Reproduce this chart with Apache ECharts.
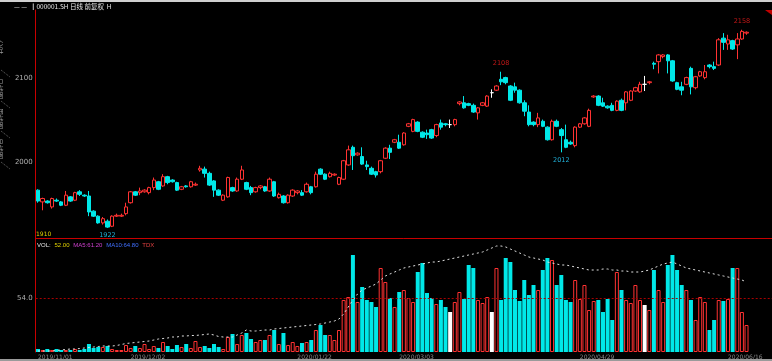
<!DOCTYPE html>
<html><head><meta charset="utf-8">
<script src="https://cdn.jsdelivr.net/npm/echarts@6/dist/echarts.min.js"></script>
<style>html,body{margin:0;padding:0;background:#000;overflow:hidden}#c{width:772px;height:361px}</style>
</head><body><div id="c"></div>
<script>
// [open, close, low, high]
const ohlc = [
[1967,1954,1952,1968],[1953,1957,1943,1958],[1954,1952,1951,1955],[1947,1957,1945,1958],[1955,1954,1953,1957],
[1953,1949,1948,1954],[1949,1961,1948,1966],[1959,1954,1953,1960],[1955,1964,1954,1965],[1965,1962,1960,1967],
[1961,1960,1959,1962],[1960,1941,1936,1966],[1942,1936,1935,1943],[1936,1928,1927,1937],[1928,1933,1926,1935],
[1930,1923,1922,1932],[1924,1936,1923,1937],[1936,1937,1935,1939],[1936,1937,1935,1939],[1939,1947,1937,1952],
[1952,1965,1951,1966],[1965,1961,1960,1966],[1964,1966,1961,1970],[1965,1967,1964,1968],[1964,1970,1962,1971],
[1970,1979,1967,1982],[1977,1968,1967,1978],[1972,1983,1971,1986],[1983,1976,1974,1984],[1979,1977,1976,1980],
[1976,1967,1966,1977],[1968,1971,1967,1972],[1972,1971,1970,1973],[1971,1977,1970,1978],[1973,1974,1972,1976],
[1991,1993,1989,1996],[1992,1987,1982,1995],[1987,1973,1972,1989],[1978,1967,1959,1979],[1967,1961,1960,1968],
[1955,1961,1954,1962],[1959,1982,1958,1983],[1970,1966,1965,1971],[1966,1980,1965,1982],[1980,1991,1979,1996],
[1976,1968,1967,1977],[1970,1964,1961,1972],[1965,1970,1964,1971],[1970,1972,1968,1973],[1971,1966,1965,1972],
[1966,1980,1965,1982],[1977,1960,1959,1978],[1958,1962,1957,1964],[1960,1952,1951,1961],[1952,1961,1951,1962],
[1960,1967,1959,1968],[1964,1966,1962,1967],[1964,1961,1960,1967],[1965,1974,1964,1976],[1971,1964,1962,1972],
[1971,1986,1970,1989],[1992,1986,1985,1993],[1986,1980,1979,1987],[1983,1987,1982,1989],[1985,1986,1984,1987],
[1974,1982,1973,1983],[1980,2002,1979,2003],[1997,2015,1996,2020],[2018,2008,1991,2020],[2009,2011,2008,2012],
[2007,1998,1997,2018],[1997,1995,1991,2002],[1993,1986,1985,1995],[1989,1985,1982,1990],[1989,2002,1987,2003],
[2005,2017,2004,2018],[2017,2012,2004,2021],[2024,2027,2023,2028],[2024,2017,2016,2033],[2021,2035,2020,2036],
[2043,2046,2042,2047],[2037,2051,2036,2052],[2048,2037,2036,2049],[2036,2030,2029,2037],[2035,2033,2028,2039],
[2039,2029,2028,2040],[2032,2045,2030,2046],[2047,2042,2039,2051],[2046,2045,2043,2047],[2045,2045,2041,2051],
[2045,2051,2043,2052],[2070,2072,2068,2073],[2071,2065,2064,2079],[2070,2068,2067,2071],[2068,2060,2059,2070],
[2059,2065,2051,2066],[2068,2071,2067,2072],[2067,2079,2066,2080],[2083,2083,2077,2087],[2086,2091,2085,2092],
[2099,2096,2092,2108],[2101,2095,2093,2102],[2091,2074,2073,2092],[2090,2086,2083,2095],[2086,2071,2070,2087],
[2071,2061,2055,2074],[2060,2045,2043,2068],[2048,2045,2043,2049],[2045,2053,2042,2059],[2049,2043,2042,2051],
[2042,2027,2026,2043],[2027,2049,2026,2051],[2049,2043,2042,2051],[2039,2032,2012,2041],[2027,2018,2017,2045],
[2024,2022,2021,2026],[2020,2042,2018,2043],[2042,2046,2041,2047],[2046,2053,2045,2054],[2043,2062,2042,2064],
[2078,2079,2077,2080],[2079,2068,2067,2080],[2071,2067,2066,2077],[2067,2065,2064,2068],[2068,2062,2061,2071],
[2062,2073,2061,2074],[2074,2062,2061,2076],[2071,2084,2062,2085],[2074,2085,2073,2086],[2085,2089,2084,2090],
[2084,2093,2083,2096],[2093,2093,2085,2103],[2095,2096,2093,2097],[2118,2117,2111,2120],[2120,2128,2106,2129],
[2126,2128,2124,2129],[2128,2121,2106,2129],[2121,2097,2096,2122],[2095,2087,2086,2096],[2090,2086,2080,2096],
[2093,2101,2092,2102],[2112,2090,2081,2114],[2089,2102,2087,2103],[2103,2108,2102,2109],[2101,2108,2099,2116],
[2116,2114,2112,2117],[2114,2112,2110,2120],[2116,2146,2115,2148],[2148,2143,2134,2154],[2141,2146,2134,2152],
[2145,2135,2134,2146],[2140,2147,2123,2154],[2147,2156,2146,2158],[2154,2155,2152,2156]
];
const volumes = [
3,2,3,2,3,2,2,2,3,2, 3,8,4,5,5,6,3,2,2,7, 4,6,4,8,3,6,4,10,6,3,
7,5,8,4,11,5,6,4,8,5, 3,15,18,8,17,19,13,10,12,12, 17,22,8,19,7,10,6,9,10,12,
22,27,17,17,12,22,52,55,97,50, 65,52,50,45,84,70,54,45,60,62, 54,50,80,89,59,54,48,52,45,40,
50,60,53,87,84,52,49,55,40,84, 52,94,90,62,51,72,57,67,62,82, 94,92,67,77,52,50,72,53,67,42,
51,52,40,53,32,80,62,52,49,67, 52,47,42,82,62,50,87,97,82,67, 62,52,32,55,50,22,32,52,51,53,
84,84,40,27
];
const volLine = [
1,1,1,1,1.5,2,2.5,3,3,3.5, 4,4.5,5,5.5,6,6,6,6.5,7.5,8.5, 9,9.5,10,10.5,11,12,13,13.5,14,15,
15,16,16,16.5,16.5,17,17.5,18,17,15.5, 15,15,15,17,19,22,21,21,21.5,22, 22,23,23.5,24,24.5,25,25.5,26,26.5,27,
27.5,28,29,30,31,33,38,45,52,58, 62,64,66,68,72,76,78,80,82,84, 85,86,87,88,89,90,90,91,92,93,
94,95,96,97,98,99,100,102,104,106, 106,105,103,101,99,97,95,94,93,92, 90,89,88,87,87,86,85,84,83,82,
82,82,83,83,82,82,81,81,80,80, 80,81,82,84,86,88,89,90,88,86, 84,83,82,81,80,79,78,77,76,75,
74,73,72,70
];
const SLOTS = 159;
const categories = Array.from({length: SLOTS}, (_, i) => String(i));
const tickIndex = [0, 20, 56, 78, 117, 149];
const tickText = ['2019/11/01', '2019/12/02', '2020/01/22', '2020/03/03', '2020/04/29', '2020/06/16'];
const priceTicks = [2000, 2100];
const volTick = 54;

const RED = '#ff3232', CYAN = '#00e8e8', AXIS = '#c80000';

const candleData = ohlc.map(d => d[0] === d[1]
  ? {value: d, itemStyle: {color: '#fff', color0: '#fff', borderColor: '#fff', borderColor0: '#fff'}}
  : d);
const volData = volumes.map((v, i) => {
  const d = ohlc[i];
  if (d[1] > d[0]) return {value: v, itemStyle: {color: '#000', borderColor: RED, borderWidth: 1}};
  if (d[1] < d[0]) return {value: v, itemStyle: {color: CYAN}};
  return {value: v, itemStyle: {color: '#fff'}};
});

function argExt(from, to, k, isMax) {
  let b = from;
  for (let i = from; i <= to; i++) {
    if (isMax ? ohlc[i][k] > ohlc[b][k] : ohlc[i][k] < ohlc[b][k]) b = i;
  }
  return b;
}
const gMax = argExt(0, ohlc.length - 1, 3, true);
const gMin = argExt(0, ohlc.length - 1, 2, false);
const lMax = argExt(85, 115, 3, true);
const lMin = argExt(105, 125, 2, false);
const hiLbl = {position: 'top', distance: 5, color: '#c81818', fontSize: 6.5, fontFamily: 'DejaVu Sans'};
const loLbl = {position: 'bottom', distance: 4, color: '#20b0d8', fontSize: 6.5, fontFamily: 'DejaVu Sans'};

const chart = echarts.init(document.getElementById('c'), null, {renderer: 'canvas'});
const L = 35.7, W = SLOTS * 4.634;
chart.setOption({
  backgroundColor: '#000',
  animation: false,
  grid: [
    {left: L, top: 10, width: W, height: 228},
    {left: L, top: 238, width: W, height: 114}
  ],
  xAxis: [
    {type: 'category', gridIndex: 0, data: categories, boundaryGap: true,
     axisLine: {show: true, lineStyle: {color: AXIS, width: 1}}, axisTick: {show: false}, axisLabel: {show: false}, splitLine: {show: false}},
    {type: 'category', gridIndex: 1, data: categories, boundaryGap: true,
     axisLine: {show: false}, axisTick: {show: false}, splitLine: {show: false},
     axisLabel: {show: true, interval: i => tickIndex.includes(i), align: 'left', margin: 2,
       formatter: (v, i) => tickText[tickIndex.indexOf(i)] || '', color: '#8a8a8a', fontSize: 6, fontFamily: 'DejaVu Sans'}}
  ],
  yAxis: [
    {type: 'value', gridIndex: 0, min: 1910, max: 2181.5, interval: 10, scale: true,
     axisLine: {show: true, lineStyle: {color: AXIS}}, axisTick: {show: false}, splitLine: {show: false},
     axisLabel: {color: '#b0b0b0', fontSize: 7, margin: 3, fontFamily: 'DejaVu Sans',
       formatter: v => priceTicks.includes(v) ? String(v) : ''}},
    {type: 'value', gridIndex: 1, min: 0, max: 114, interval: volTick,
     axisLine: {show: true, lineStyle: {color: AXIS}}, axisTick: {show: false}, splitLine: {show: false},
     axisLabel: {color: '#b0b0b0', fontSize: 7, margin: 3, fontFamily: 'DejaVu Sans',
       formatter: v => v === volTick ? v.toFixed(1) : ''}}
  ],
  series: [
    {type: 'candlestick', xAxisIndex: 0, yAxisIndex: 0, data: candleData, barWidth: 4,
     itemStyle: {color: '#000', color0: CYAN, borderColor: RED, borderColor0: CYAN, borderWidth: 1},
     markPoint: {symbol: 'circle', symbolSize: 0, animation: false,
       data: [
         {coord: [gMax, ohlc[gMax][3]], value: ohlc[gMax][3], label: hiLbl},
         {coord: [lMax, ohlc[lMax][3]], value: ohlc[lMax][3], label: hiLbl},
         {coord: [gMin, ohlc[gMin][2]], value: ohlc[gMin][2], label: loLbl},
         {coord: [lMin, ohlc[lMin][2]], value: ohlc[lMin][2], label: loLbl}
       ]}},
    {type: 'bar', xAxisIndex: 1, yAxisIndex: 1, data: volData, barWidth: 4,
     markLine: {symbol: 'none', silent: true, label: {show: false},
       lineStyle: {color: '#a80000', type: [2, 2], width: 1}, data: [{yAxis: volTick}]}},
    {type: 'line', xAxisIndex: 1, yAxisIndex: 1, data: volLine, symbol: 'none',
     lineStyle: {color: '#e0e0e0', width: 1, type: [2, 3]}}
  ],
  graphic: [
    {type: 'rect', shape: {x: 0, y: 0, width: 772, height: 2}, style: {fill: '#cfcfcf'}},
    {type: 'rect', shape: {x: 0, y: 359, width: 772, height: 2}, style: {fill: '#9a9a9a'}},
    {type: 'text', left: 14, top: 3, style: {text: '— —  ┃000001.SH 日线 前复权  H', fill: '#e8e8e8', fontSize: 6.5, fontFamily: 'Noto Sans CJK SC'}},
    {type: 'text', left: 37, top: 239, style: {
      text: '{a|VOL:} {b|52.00} {c|MA5:61.20} {d|MA10:64.80} {e|TDX}',
      rich: {a: {fill: '#e8e8e8', fontSize: 6}, b: {fill: '#e0d000', fontSize: 6}, c: {fill: '#d040d0', fontSize: 6},
             d: {fill: '#4070ff', fontSize: 6}, e: {fill: '#e04040', fontSize: 6}}, fontFamily: 'DejaVu Sans'}},
    {type: 'text', left: 36, top: 231, style: {text: '1910', fill: '#e0d000', fontSize: 6, fontFamily: 'DejaVu Sans'}},
    {type: 'polygon', shape: {points: [[765, 10], [772, 10], [772, 15]]}, style: {fill: '#c00000'}},
    {type: 'text', x: 3, y: 40, rotation: -Math.PI / 2, style: {text: '分时', fill: '#9a9a9a', fontSize: 7, fontFamily: 'Noto Sans CJK SC'}},
    {type: 'text', x: 3, y: 78, rotation: -Math.PI / 2, style: {text: '日线图', fill: '#9a9a9a', fontSize: 7, fontFamily: 'Noto Sans CJK SC'}},
    {type: 'text', x: 3, y: 108, rotation: -Math.PI / 2, style: {text: '周线图', fill: '#9a9a9a', fontSize: 7, fontFamily: 'Noto Sans CJK SC'}},
    {type: 'text', x: 3, y: 138, rotation: -Math.PI / 2, style: {text: '月线图', fill: '#9a9a9a', fontSize: 7, fontFamily: 'Noto Sans CJK SC'}},
    {type: 'line', shape: {x1: 1, y1: 70, x2: 10, y2: 77}, style: {stroke: '#666', lineWidth: 1, lineDash: [1, 1]}},
    {type: 'line', shape: {x1: 1, y1: 101, x2: 10, y2: 108}, style: {stroke: '#666', lineWidth: 1, lineDash: [1, 1]}},
    {type: 'line', shape: {x1: 1, y1: 131, x2: 10, y2: 138}, style: {stroke: '#666', lineWidth: 1, lineDash: [1, 1]}},
    {type: 'line', shape: {x1: 1, y1: 162, x2: 10, y2: 169}, style: {stroke: '#666', lineWidth: 1, lineDash: [1, 1]}}
  ]
});
</script></body></html>
